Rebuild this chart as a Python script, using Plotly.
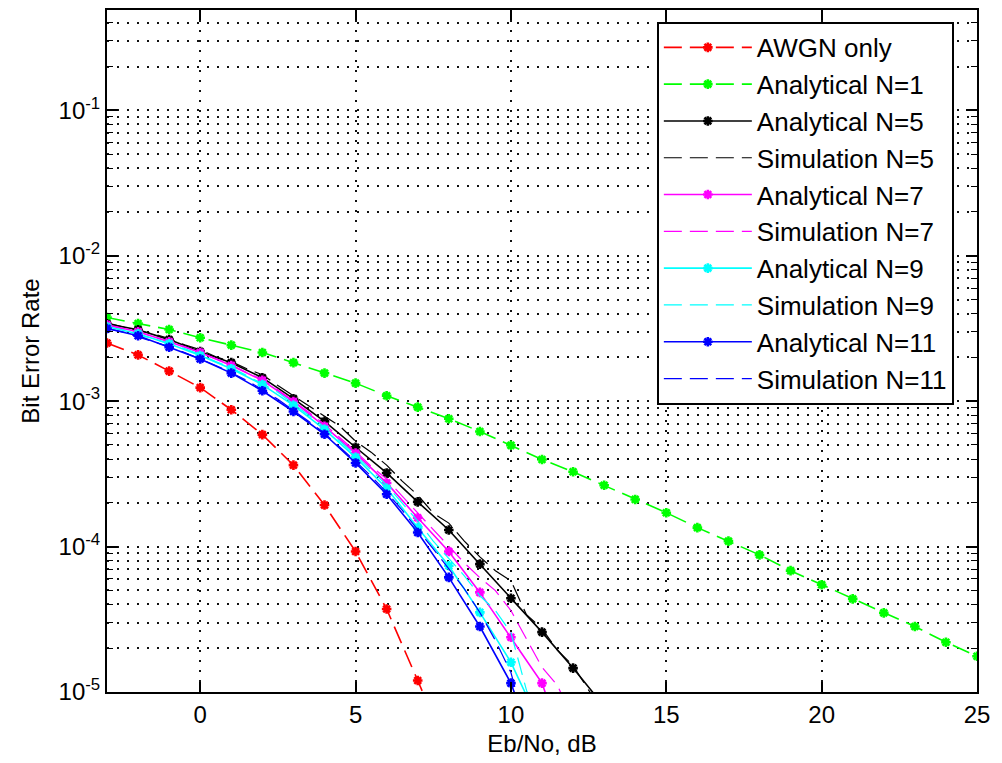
import numpy as np
import plotly.graph_objects as go

# ---------------- data ----------------
x_awgn = [-3, -2, -1, 0, 1, 2, 3, 4, 5, 6, 7, 8]
ber_awgn = [2.51e-3, 2.08e-3, 1.61e-3, 1.24e-3, 8.73e-4, 5.89e-4, 3.63e-4,
            1.93e-4, 9.25e-5, 3.72e-5, 1.2e-5, 3.8e-6]

x_n1 = list(range(-3, 26))
ber_n1 = [3.76e-3, 3.42e-3, 3.11e-3, 2.73e-3, 2.43e-3, 2.16e-3, 1.84e-3, 1.56e-3,
          1.33e-3, 1.09e-3, 9.1e-4, 7.57e-4, 6.19e-4, 4.97e-4, 3.97e-4, 3.27e-4,
          2.64e-4, 2.11e-4, 1.71e-4, 1.35e-4, 1.09e-4, 8.77e-5, 6.83e-5, 5.47e-5,
          4.37e-5, 3.50e-5, 2.82e-5, 2.20e-5, 1.76e-5]

x_n5 = list(range(-3, 14))
ber_an5 = [3.40e-3, 3.10e-3, 2.65e-3, 2.19e-3, 1.84e-3, 1.45e-3, 1.04e-3, 7.26e-4,
           4.82e-4, 3.21e-4, 2.03e-4, 1.30e-4, 7.57e-5, 4.41e-5, 2.58e-5, 1.46e-5,
           7.98e-6]

x_n7 = list(range(-3, 13))
ber_an7 = [3.35e-3, 3.00e-3, 2.56e-3, 2.16e-3, 1.76e-3, 1.39e-3, 9.95e-4, 6.71e-4,
           4.39e-4, 2.74e-4, 1.58e-4, 9.25e-5, 4.84e-5, 2.38e-5, 1.15e-5, 2.8e-6]

x_n9 = list(range(-3, 12))
ber_an9 = [3.25e-3, 2.91e-3, 2.48e-3, 2.06e-3, 1.67e-3, 1.30e-3, 9.35e-4, 6.4e-4,
           4.11e-4, 2.52e-4, 1.35e-4, 7.38e-5, 3.53e-5, 1.60e-5, 5.6e-6]

x_n11 = list(range(-3, 12))
ber_an11 = [3.16e-3, 2.82e-3, 2.35e-3, 1.95e-3, 1.56e-3, 1.18e-3, 8.49e-4, 5.92e-4,
            3.76e-4, 2.29e-4, 1.25e-4, 6.14e-5, 2.82e-5, 1.15e-5, 3.0e-6]

xs5 = [-3, -2.5, -2, -1.5, -1, -0.5, 0, 0.5, 1, 1.5, 2, 2.5, 3, 3.5, 4, 4.5, 5, 5.5,
       6, 6.5, 7, 7.5, 8, 8.5, 9, 9.5, 10, 10.5, 11, 11.5, 12, 12.5, 13]
ber_sim5 = [3.46e-3, 3.25e-3, 3.05e-3, 2.91e-3, 2.69e-3, 2.44e-3, 2.26e-3, 2.02e-3,
            1.87e-3, 1.67e-3, 1.52e-3, 1.28e-3, 1.09e-3, 9.2e-4, 7.85e-4, 6.71e-4,
            5.30e-4, 4.46e-4, 3.63e-4, 2.82e-4, 2.26e-4, 1.70e-4, 1.45e-4, 1.09e-4,
            8.49e-5, 6.83e-5, 5.82e-5, 3.40e-5, 2.73e-5, 1.93e-5, 1.52e-5, 1.03e-5,
            7.26e-6]

xs7 = [-3, -2.5, -2, -1.5, -1, -0.5, 0, 0.5, 1, 1.5, 2, 2.5, 3, 3.5, 4, 4.5, 5, 5.5,
       6, 6.5, 7, 7.5, 8, 8.5, 9, 9.5, 10, 10.5, 11, 11.5, 12]
ber_sim7 = [3.35e-3, 3.15e-3, 3.00e-3, 2.77e-3, 2.56e-3, 2.37e-3, 2.16e-3, 1.96e-3,
            1.78e-3, 1.57e-3, 1.41e-3, 1.20e-3, 1.01e-3, 8.38e-4, 6.92e-4, 5.56e-4,
            4.52e-4, 3.57e-4, 2.91e-4, 2.22e-4, 1.70e-4, 1.32e-4, 1.01e-4, 7.73e-5,
            6.11e-5, 4.98e-5, 3.63e-5, 2.33e-5, 1.48e-5, 1.11e-5, 6.4e-6]

xs9 = [-3, -2.5, -2, -1.5, -1, -0.5, 0, 0.5, 1, 1.5, 2, 2.5, 3, 3.5, 4, 4.5, 5, 5.5,
       6, 6.5, 7, 7.5, 8, 8.5, 9, 9.5, 10, 10.5, 11]
ber_sim9 = [3.25e-3, 3.10e-3, 2.86e-3, 2.69e-3, 2.48e-3, 2.30e-3, 2.09e-3, 1.87e-3,
            1.70e-3, 1.50e-3, 1.32e-3, 1.15e-3, 9.64e-4, 7.98e-4, 6.61e-4, 5.30e-4,
            4.25e-4, 3.35e-4, 2.65e-4, 1.99e-4, 1.50e-4, 1.09e-4, 8.24e-5, 6.30e-5,
            4.59e-5, 3.63e-5, 2.56e-5, 1.03e-5, 5.47e-6]

xs11 = [-3, -2.5, -2, -1.5, -1, -0.5, 0, 0.5, 1, 1.5, 2, 2.5, 3, 3.5, 4, 4.5, 5, 5.5,
        6, 6.5, 7, 7.5, 8, 8.5, 9, 9.5, 10, 10.5]
ber_sim11 = [3.15e-3, 3.00e-3, 2.77e-3, 2.56e-3, 2.37e-3, 2.16e-3, 1.96e-3, 1.76e-3,
             1.57e-3, 1.39e-3, 1.20e-3, 1.03e-3, 8.63e-4, 7.26e-4, 6.01e-4, 4.82e-4,
             3.86e-4, 3.05e-4, 2.37e-4, 1.78e-4, 1.32e-4, 9.64e-5, 7.03e-5, 5.13e-5,
             3.52e-5, 2.26e-5, 1.36e-5, 5.47e-6]

y_major = [1e-5, 1e-4, 1e-3, 1e-2, 1e-1]
y_major_text = ["10<sup>-5</sup>", "10<sup>-4</sup>", "10<sup>-3</sup>",
                "10<sup>-2</sup>", "10<sup>-1</sup>"]
x_ticks = [0, 5, 10, 15, 20, 25]

# ---------------- figure ----------------
FONT = "Liberation Sans, Arial, sans-serif"
DASH = "18px,8px"
fig = go.Figure()


def add(x, y, name, color, dash, marker):
    fig.add_trace(go.Scatter(
        x=x, y=y, name=name,
        mode="lines+markers" if marker else "lines",
        line=dict(color=color, width=1.6 if marker else 1.2, dash=dash),
        marker=dict(symbol="asterisk", size=8, color=color,
                    line=dict(color=color, width=2.6)) if marker else None,
    ))


add(x_awgn, ber_awgn, "AWGN only", "#FF0000", DASH, True)
add(x_n1, ber_n1, "Analytical N=1", "#00FF00", DASH, True)
add(x_n5, ber_an5, "Analytical N=5", "#000000", "solid", True)
add(xs5, ber_sim5, "Simulation N=5", "#000000", DASH, False)
add(x_n7, ber_an7, "Analytical N=7", "#FF00FF", "solid", True)
add(xs7, ber_sim7, "Simulation N=7", "#FF00FF", DASH, False)
add(x_n9, ber_an9, "Analytical N=9", "#00FFFF", "solid", True)
add(xs9, ber_sim9, "Simulation N=9", "#00FFFF", DASH, False)
add(x_n11, ber_an11, "Analytical N=11", "#0000FF", "solid", True)
add(xs11, ber_sim11, "Simulation N=11", "#0000FF", DASH, False)

minor_vals = [m * 10.0 ** e for e in range(-5, 0) for m in range(2, 10)]
minor_vals = [v for v in minor_vals if v < 0.49]

GRID = dict(gridcolor="#111111", gridwidth=1.7, griddash="1.7px,8.3px")

fig.update_layout(
    width=1002, height=763,
    margin=dict(l=107, r=25, t=8, b=71),
    paper_bgcolor="white", plot_bgcolor="white",
    font=dict(family=FONT, size=24, color="black"),
    showlegend=True,
    legend=dict(
        x=0.632, y=0.9825, xanchor="left", yanchor="top",
        bgcolor="white", bordercolor="black", borderwidth=2,
        font=dict(family=FONT, size=26, color="black"),
        itemwidth=88, tracegroupgap=0,
    ),
    xaxis=dict(
        range=[-3, 25], tickvals=x_ticks,
        ticks="inside", ticklen=10, tickwidth=1.5, tickcolor="black",
        showline=True, linecolor="black", linewidth=2, mirror="allticks",
        showgrid=True, zeroline=False,
        title=dict(text="Eb/No, dB", standoff=8, font=dict(size=24)),
        tickfont=dict(size=24),
        **GRID,
    ),
    yaxis=dict(
        type="log", range=[-5, -0.31],
        tickvals=y_major, ticktext=y_major_text,
        ticks="inside", ticklen=11, tickwidth=1.5, tickcolor="black",
        showline=True, linecolor="black", linewidth=2, mirror="allticks",
        showgrid=True, zeroline=False,
        title=dict(text="Bit Error Rate", standoff=12, font=dict(size=24)),
        tickfont=dict(size=24),
        minor=dict(tickvals=minor_vals, ticks="inside", ticklen=6,
                   tickcolor="black", tickwidth=1.2, showgrid=True, **GRID),
        **GRID,
    ),
)

fig.write_html("out.html")
